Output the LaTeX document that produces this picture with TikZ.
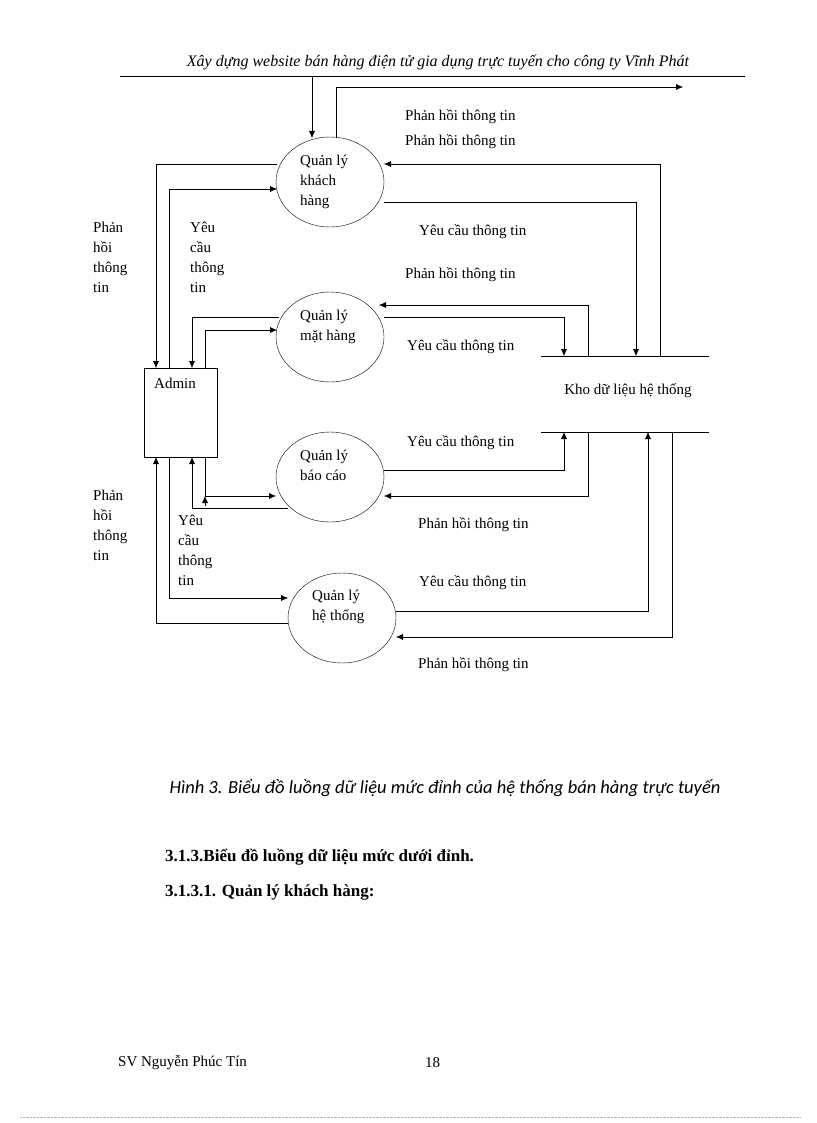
\documentclass[tikz,border=0pt]{standalone}
\usepackage{fontspec}
\setmainfont{Liberation Serif}
\newfontfamily\capfont{Carlito}
\usetikzlibrary{shapes.geometric,arrows.meta}
\begin{document}
\begin{tikzpicture}[x=1pt,y=-1pt,>={Latex[length=7pt,width=6pt]},
  lbl/.style={font=\fontsize{15}{20}\selectfont,inner sep=0,anchor=west},
  stack/.style={lbl,align=left,anchor=north west},
  proc/.style={draw,ellipse,minimum width=108pt,minimum height=90pt,inner sep=0},
  ptxt/.style={lbl,align=left,anchor=north west,font=\fontsize{15}{20}\selectfont}]
\useasboundingbox (0,0) rectangle (816,1123);
% header
\node[lbl,anchor=center,font=\itshape\fontsize{16}{18}\selectfont] (head) at (438,62) {Xây dựng website bán hàng điện tử gia dụng trực tuyến cho công ty Vĩnh Phát};
\draw (120,76) -- (745,76);
% processes
\node[proc] (kh) at (330,182) {};
\node[proc] (mh) at (330,337) {};
\node[proc] (bc) at (330,477) {};
\node[proc] (ht) at (342,618) {};
\node[ptxt] at (300,155) {Quản lý\\khách\\hàng};
\node[ptxt] at (300,310) {Quản lý\\mặt hàng};
\node[ptxt] at (300,450) {Quản lý\\báo cáo};
\node[ptxt] at (312,590) {Quản lý\\hệ thống};
% admin and store
\node[draw,minimum width=73pt,minimum height=89pt,inner sep=0] (admin) at (180.5,412.5) {};
\node[lbl] (admint) at (154,383) {Admin};
\coordinate (st1) at (541,356); \coordinate (st2) at (709,356);
\coordinate (sb1) at (541,432); \coordinate (sb2) at (709,432);
\draw (st1) -- (st2); \draw (sb1) -- (sb2);
\node[lbl,anchor=center] (store) at (628,391) {Kho dữ liệu  hệ thống};
% top
\draw[->] (312,76) -- (312,138);
\draw[->] (336,138) -- (336,87) -- (683,87);
% kh
\draw[->] (277,164) -- (156,164) -- (156,368);
\draw[->] (169,368) -- (169,189) -- (277,189);
\draw[->] (660,356) -- (660,164) -- (384,164);
\draw[->] (384,202) -- (636,202) -- (636,356);
% mh
\draw[->] (588,356) -- (588,305) -- (379,305);
\draw[->] (384,317) -- (564,317) -- (564,356);
\draw[->] (279,317) -- (192,317) -- (192,368);
\draw[->] (205,368) -- (205,330) -- (277,330);
% bc
\draw[->] (384,470) -- (564,470) -- (564,432);
\draw[->] (588,432) -- (588,496) -- (384,496);
\draw[->] (205,457) -- (205,496) -- (276,496);
\draw[->] (205,506) -- (205,496);
\draw[->] (288,508) -- (192,508) -- (192,457);
% ht
\draw[->] (169,457) -- (169,598) -- (288,598);
\draw[->] (288,623) -- (156,623) -- (156,457);
\draw[->] (396,611) -- (648,611) -- (648,432);
\draw[->] (672,432) -- (672,637) -- (396,637);
% flow labels
\node[lbl] at (405,117) {Phản hồi thông  tin};
\node[lbl] at (405,142) {Phản hồi thông  tin};
\node[lbl] at (419,232) {Yêu cầu thông  tin};
\node[lbl] at (405,275) {Phản hồi thông  tin};
\node[lbl] at (407,347) {Yêu cầu thông  tin};
\node[lbl] at (407,443) {Yêu cầu thông  tin};
\node[lbl] at (418,525) {Phản hồi thông  tin};
\node[lbl] at (419,583) {Yêu cầu thông  tin};
\node[lbl] at (418,665) {Phản hồi thông  tin};
\node[stack] at (93,222) {Phản\\hồi\\thông\\tin};
\node[stack] at (190,222) {Yêu\\cầu\\thông\\tin};
\node[stack] at (93,490) {Phản\\hồi\\thông\\tin};
\node[stack] at (178,515) {Yêu\\cầu\\thông\\tin};
% caption and text
\node[lbl,anchor=center,font=\capfont\itshape\fontsize{18.5}{20}\selectfont] (cap) at (445,788) {Hình 3. Biểu đồ luồng dữ liệu mức đỉnh của hệ thống bán hàng trực tuyến};
\node[lbl,font=\bfseries\fontsize{17}{20}\selectfont] (sec) at (165,857) {3.1.3.Biểu đồ luồng dữ liệu mức dưới đỉnh.};
\node[lbl,font=\bfseries\fontsize{17}{20}\selectfont] (sub) at (165,892) {3.1.3.1. Quản lý khách hàng:};
\node[lbl] (foot) at (118,1063) {SV Nguyễn  Phúc Tín};
\node[lbl] (page) at (425,1063) {18};
\draw[densely dotted,black!30] (20,1117) -- (800,1117);
\end{tikzpicture}
\end{document}
